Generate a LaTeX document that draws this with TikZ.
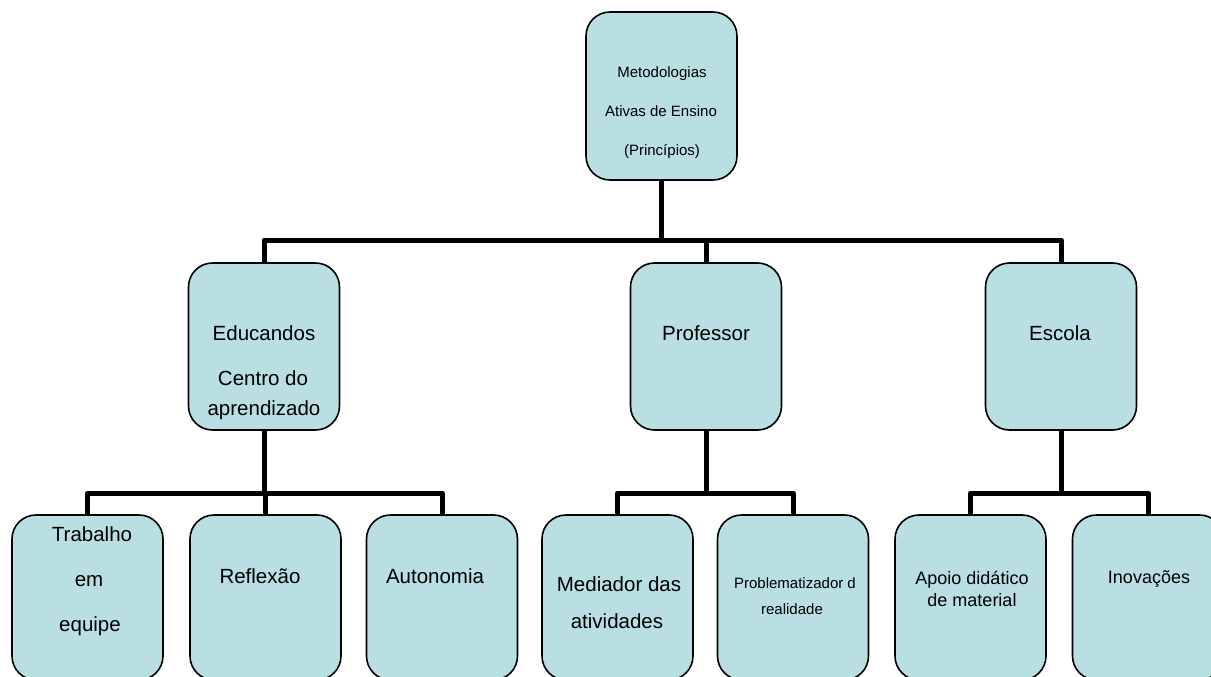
\documentclass[tikz,border=0pt]{standalone}
\usepackage{fontspec}
\setmainfont{Liberation Sans}
\definecolor{boxfill}{RGB}{185,223,226}
\tikzset{
  box/.style={draw=black, line width=1.6pt, fill=boxfill, rounded corners=24pt,
    minimum width=151pt, inner sep=0pt, anchor=center},
  topbox/.style={box, minimum height=168pt},
  midbox/.style={box, minimum height=167pt},
  lowbox/.style={box, minimum height=165pt},
  conn/.style={line width=5pt, line join=round, draw=black},
  txtL/.style={font=\fontsize{20.5}{24}\selectfont, anchor=mid, inner sep=0pt},
  txtM/.style={font=\fontsize{18}{21}\selectfont, anchor=mid, inner sep=0pt},
  txtS/.style={font=\fontsize{15}{18}\selectfont, anchor=mid, inner sep=0pt},
}
\begin{document}
\begin{tikzpicture}[x=1pt,y=-1pt]
\useasboundingbox (0,0) rectangle (1211,677);
\clip (0,0) rectangle (1211,677);

% boxes
\node[topbox] (top)  at (661.5,96) {};
\node[midbox] (edu)  at (264,346.5) {};
\node[midbox] (prof) at (706,346.5) {};
\node[midbox] (esc)  at (1061,346.5) {};
\node[lowbox] (trab) at (87.5,597.5) {};
\node[lowbox] (refl) at (265.5,597.5) {};
\node[lowbox] (auto) at (442,597.5) {};
\node[lowbox] (med)  at (617.5,597.5) {};
\node[lowbox] (prob) at (793,597.5) {};
\node[lowbox] (apo)  at (970.5,597.5) {};
\node[lowbox] (inov) at (1148,597.5) {};

% texts
\node[txtS] (t1) at (662,75)  {Metodologias};
\node[txtS] (t2) at (661,114) {Ativas de Ensino};
\node[txtS] (t3) at (662,153) {(Princípios)};

\node[txtL] (e1) at (264,338) {Educandos};
\node[txtL] (e2) at (263,383) {Centro do};
\node[txtL] (e3) at (264,413) {aprendizado};
\node[txtL] (p1) at (706,338) {Professor};
\node[txtL] (s1) at (1060,338) {Escola};

\node[txtL] (a1) at (92,539)  {Trabalho};
\node[txtL] (a2) at (89,584)  {em};
\node[txtL] (a3) at (90,629)  {equipe};
\node[txtL] (b1) at (260,581) {Reflexão};
\node[txtL] (c1) at (435,581) {Autonomia};
\node[txtL] (d1) at (619,589) {Mediador das};
\node[txtL] (d2) at (617,626) {atividades};
\node[txtS] (f1) at (795,586) {Problematizador d};
\node[txtS] (f2) at (792,612) {realidade};
\node[txtM] (g1) at (972,582) {Apoio didático};
\node[txtM] (g2) at (972,604) {de material};
\node[txtM] (h1) at (1149,581) {Inovações};

% connectors
\coordinate (j0) at (top.south |- 0,240);
\draw[conn] (top.south) -- (j0);
\draw[conn] (edu.north) |- (j0) -| (esc.north);
\draw[conn] (j0 -| prof.north) -- (prof.north);

\coordinate (j1) at (edu.south |- 0,493);
\draw[conn] (edu.south) -- (j1);
\draw[conn] (trab.north) |- (j1) -| (auto.north);
\draw[conn] (j1 -| refl.north) -- (refl.north);

\coordinate (j2) at (prof.south |- 0,493);
\draw[conn] (prof.south) -- (j2);
\draw[conn] (med.north) |- (j2) -| (prob.north);

\coordinate (j3) at (esc.south |- 0,493);
\draw[conn] (esc.south) -- (j3);
\draw[conn] (apo.north) |- (j3) -| (inov.north);
\end{tikzpicture}
\end{document}
